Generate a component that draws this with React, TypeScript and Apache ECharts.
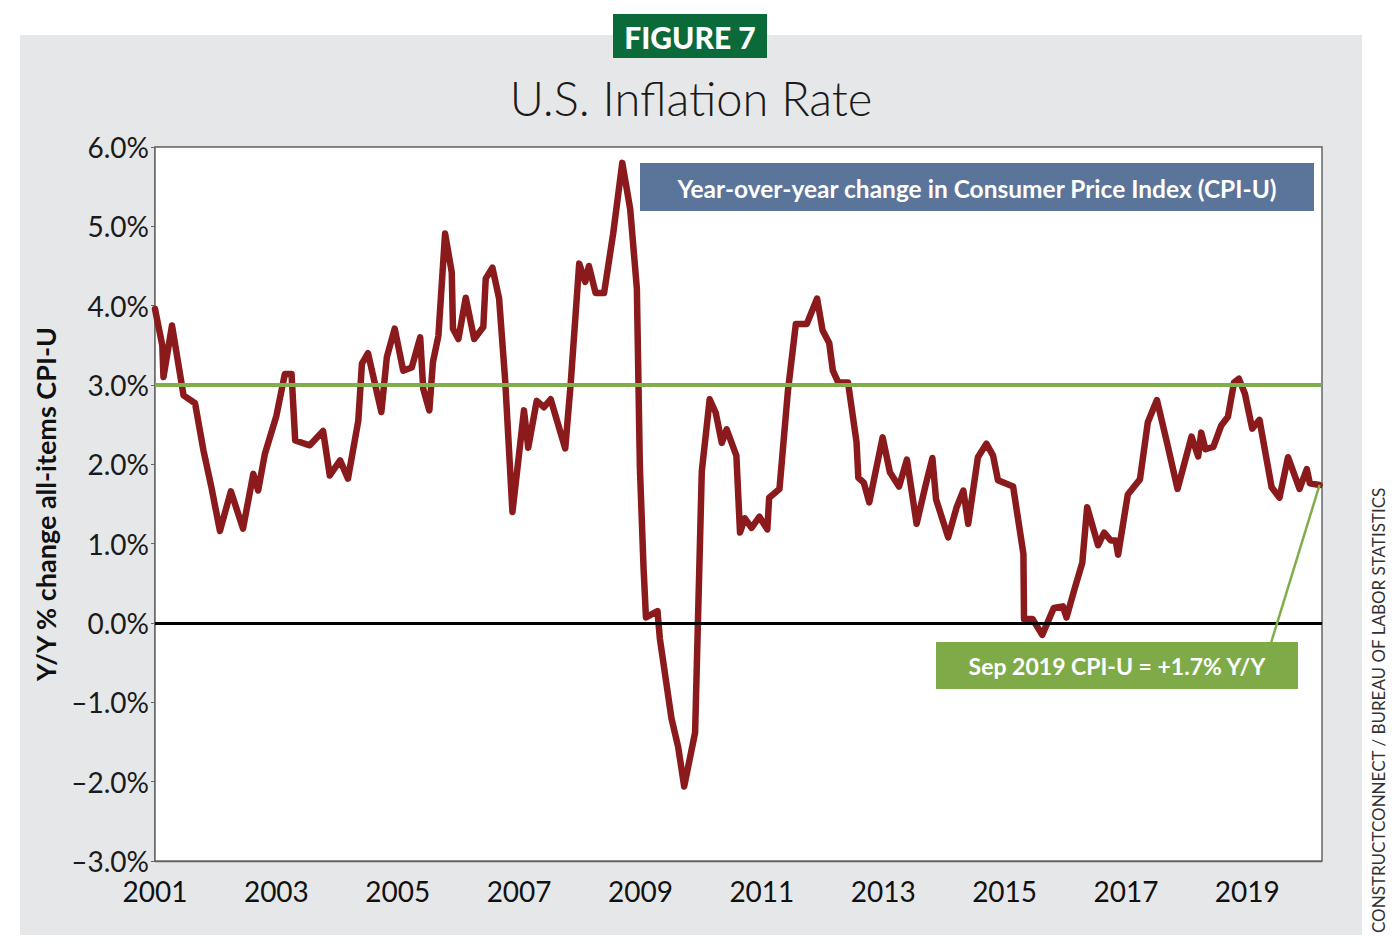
import React, { useEffect, useRef } from "react";
import * as echarts from "echarts";

// Decimal-year positions and Y/Y % change of CPI-U
const years = [
  2001.0, 2001.12, 2001.14, 2001.28, 2001.47, 2001.66, 2001.8, 2001.93, 2002.07, 2002.25,
  2002.45, 2002.62, 2002.7, 2002.81, 2003.0, 2003.14, 2003.25, 2003.31, 2003.55, 2003.77,
  2003.88, 2004.05, 2004.18, 2004.35, 2004.41, 2004.51, 2004.73, 2004.82, 2004.95, 2005.09,
  2005.23, 2005.37, 2005.42, 2005.52, 2005.58, 2005.67, 2005.78, 2005.89, 2005.91, 2006.0,
  2006.12, 2006.26, 2006.41, 2006.45, 2006.56, 2006.67, 2006.77, 2006.89, 2006.99, 2007.08,
  2007.15, 2007.29, 2007.41, 2007.52, 2007.76, 2007.85, 2007.99, 2008.09, 2008.15, 2008.26,
  2008.4, 2008.55, 2008.7, 2008.83, 2008.94, 2008.99, 2009.05, 2009.09, 2009.28, 2009.32,
  2009.51, 2009.62, 2009.72, 2009.9, 2010.01, 2010.14, 2010.24, 2010.34, 2010.42, 2010.58,
  2010.64, 2010.72, 2010.83, 2010.96, 2011.09, 2011.12, 2011.29, 2011.43, 2011.56, 2011.74,
  2011.91, 2012.0, 2012.11, 2012.17, 2012.26, 2012.42, 2012.56, 2012.59, 2012.68, 2012.77,
  2012.99, 2013.11, 2013.26, 2013.39, 2013.55, 2013.69, 2013.81, 2013.87, 2014.07, 2014.21,
  2014.32, 2014.4, 2014.56, 2014.7, 2014.81, 2014.89, 2015.14, 2015.31, 2015.32, 2015.46,
  2015.62, 2015.81, 2015.96, 2016.02, 2016.16, 2016.28, 2016.36, 2016.54, 2016.64, 2016.75,
  2016.83, 2016.87, 2017.03, 2017.23, 2017.36, 2017.51, 2017.68, 2017.85, 2018.08, 2018.19,
  2018.24, 2018.31, 2018.44, 2018.57, 2018.68, 2018.78, 2018.86, 2018.96, 2019.08, 2019.2,
  2019.4, 2019.53, 2019.67, 2019.86, 2019.98, 2020.03, 2020.19,
];

const cpiYoY = [
  3.96, 3.5, 3.1, 3.75, 2.87, 2.77, 2.17, 1.71, 1.16, 1.66,
  1.19, 1.88, 1.67, 2.13, 2.61, 3.14, 3.14, 2.3, 2.24, 2.42,
  1.86, 2.05, 1.82, 2.55, 3.27, 3.4, 2.66, 3.35, 3.71, 3.18,
  3.22, 3.6, 2.95, 2.68, 3.29, 3.62, 4.91, 4.42, 3.71, 3.58,
  4.1, 3.58, 3.73, 4.34, 4.48, 4.09, 3.06, 1.4, 2.07, 2.68,
  2.21, 2.8, 2.72, 2.82, 2.2, 3.02, 4.53, 4.3, 4.5, 4.16,
  4.16, 4.91, 5.8, 5.22, 4.22, 1.96, 0.7, 0.07, 0.15, -0.2,
  -1.2, -1.56, -2.06, -1.38, 1.91, 2.82, 2.65, 2.27, 2.44, 2.11,
  1.14, 1.32, 1.2, 1.34, 1.18, 1.58, 1.69, 2.93, 3.77, 3.77,
  4.09, 3.69, 3.53, 3.18, 3.03, 3.03, 2.28, 1.83, 1.77, 1.52,
  2.34, 1.9, 1.72, 2.06, 1.25, 1.71, 2.08, 1.56, 1.08, 1.46,
  1.67, 1.25, 2.09, 2.26, 2.11, 1.8, 1.72, 0.87, 0.05, 0.05,
  -0.15, 0.19, 0.21, 0.07, 0.45, 0.76, 1.46, 0.98, 1.14, 1.04,
  1.04, 0.86, 1.62, 1.81, 2.53, 2.81, 2.26, 1.69, 2.35, 2.1,
  2.4, 2.19, 2.22, 2.49, 2.6, 3.03, 3.08, 2.89, 2.45, 2.56,
  1.71, 1.58, 2.09, 1.69, 1.94, 1.76, 1.74,
];

const xMin = 2001;
const xMax = 2020.23;
const yMin = -3;
const yMax = 6;
const referenceLevel = 3;
const calloutAnchor = [2019.39, -0.25];

const titleText = "U.S. Inflation Rate";
const badgeText = "FIGURE 7";
const seriesLabel = "Year-over-year change in Consumer Price Index (CPI-U)";
const calloutText = "Sep 2019 CPI-U = +1.7% Y/Y";
const yAxisTitle = "Y/Y % change all-items CPI-U";
const sourceText = "CONSTRUCTCONNECT / BUREAU OF LABOR STATISTICS";

export default function App() {
  const ref = useRef<HTMLDivElement>(null);

  useEffect(() => {
    if (!ref.current) return;
    const chart = echarts.init(ref.current, null, { renderer: "svg" });
    const data = years.map((y, i) => [y, cpiYoY[i]]);
    const last = data[data.length - 1];
    const font = "Lato, 'Open Sans', sans-serif";

    chart.setOption({
      animation: false,
      backgroundColor: "#ffffff",
      textStyle: { fontFamily: font },
      grid: {
        left: 155,
        right: 75,
        top: 147,
        bottom: 89,
        show: true,
        backgroundColor: "#ffffff",
        borderColor: "#666666",
        borderWidth: 1.5,
        z: 1,
      },
      xAxis: {
        type: "value",
        min: xMin,
        max: xMax,
        interval: 2,
        axisLine: { show: true, lineStyle: { color: "#666666", width: 1.5 } },
        axisTick: { show: false },
        splitLine: { show: false },
        axisLabel: {
          color: "#111111",
          fontSize: 28,
          fontFamily: font,
          margin: 16,
          showMaxLabel: false,
          formatter: (v: number) => String(Math.round(v)),
        },
      },
      yAxis: {
        type: "value",
        min: yMin,
        max: yMax,
        interval: 1,
        name: yAxisTitle,
        nameLocation: "middle",
        nameRotate: 90,
        nameGap: 96,
        nameTextStyle: {
          fontSize: 27,
          fontWeight: "bold",
          color: "#111111",
          fontFamily: font,
        },
        axisLine: { show: true, lineStyle: { color: "#666666", width: 1.5 } },
        axisTick: { show: true, length: 4, lineStyle: { color: "#666666" } },
        splitLine: { show: true, lineStyle: { color: "#5a5a5a", width: 1.3 } },
        axisLabel: {
          color: "#1a1a1a",
          fontSize: 28,
          fontFamily: font,
          margin: 6,
          formatter: (v: number) =>
            (v < 0 ? "\u2013" + Math.abs(v).toFixed(1) : v.toFixed(1)) + "%",
        },
      },
      series: [
        {
          type: "line",
          data: [],
          z: 2,
          silent: true,
          markLine: {
            silent: true,
            symbol: "none",
            label: { show: false },
            data: [
              { yAxis: referenceLevel, lineStyle: { color: "#7fae4a", width: 4, type: "solid" } },
              { yAxis: 0, lineStyle: { color: "#000000", width: 3, type: "solid" } },
              [
                { coord: last, lineStyle: { color: "#7fae4a", width: 2.5, type: "solid" } },
                { coord: calloutAnchor },
              ],
            ],
          },
        },
        {
          type: "line",
          data,
          z: 4,
          showSymbol: false,
          symbol: "none",
          lineStyle: { color: "#8b1a1c", width: 6.5, join: "round", cap: "round" },
        },
      ],
      graphic: [
        {
          type: "rect",
          z: -10,
          silent: true,
          shape: { x: 20, y: 35, width: 1342, height: 900 },
          style: { fill: "#e6e7e9" },
        },
        {
          type: "rect",
          z: 10,
          shape: { x: 613, y: 14, width: 154, height: 44 },
          style: { fill: "#0b6a39" },
        },
        {
          type: "text",
          z: 11,
          x: 690,
          y: 37,
          style: {
            text: badgeText,
            fill: "#ffffff",
            font: "900 30px Lato, sans-serif",
            textAlign: "center",
            textVerticalAlign: "middle",
          },
        },
        {
          type: "text",
          z: 11,
          x: 691,
          y: 98,
          style: {
            text: titleText,
            fill: "#1a1a1a",
            font: "300 47px Lato, sans-serif",
            textAlign: "center",
            textVerticalAlign: "middle",
          },
        },
        {
          type: "rect",
          z: 10,
          shape: { x: 640, y: 163, width: 674, height: 48 },
          style: { fill: "#5b7499" },
        },
        {
          type: "text",
          z: 11,
          x: 977,
          y: 188,
          style: {
            text: seriesLabel,
            fill: "#ffffff",
            font: "bold 24.5px Lato, sans-serif",
            textAlign: "center",
            textVerticalAlign: "middle",
          },
        },
        {
          type: "rect",
          z: 10,
          shape: { x: 936, y: 642, width: 362, height: 47 },
          style: { fill: "#7eab48" },
        },
        {
          type: "text",
          z: 11,
          x: 1117,
          y: 666,
          style: {
            text: calloutText,
            fill: "#ffffff",
            font: "bold 23px Lato, sans-serif",
            textAlign: "center",
            textVerticalAlign: "middle",
          },
        },
        {
          type: "text",
          z: 11,
          x: 1378,
          y: 933,
          rotation: Math.PI / 2,
          style: {
            text: sourceText,
            fill: "#333333",
            font: "17px Lato, sans-serif",
            textAlign: "left",
            textVerticalAlign: "middle",
          },
        },
      ],
    });

    return () => chart.dispose();
  }, []);

  return (
    <div style={{ position: "absolute", left: 0, top: 0, width: 1397, height: 950 }}>
      <div ref={ref} style={{ width: 1397, height: 950 }} />
    </div>
  );
}
